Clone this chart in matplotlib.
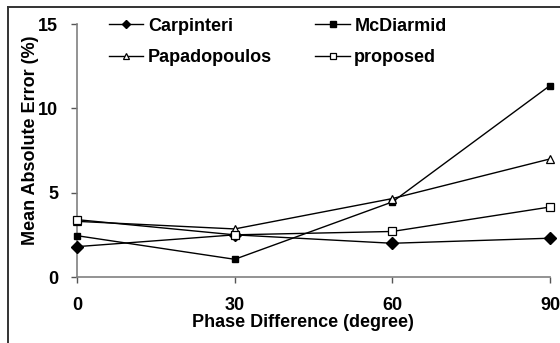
import matplotlib
matplotlib.use("Agg")
import matplotlib.pyplot as plt
from matplotlib.lines import Line2D

plt.rcParams['font.family'] = ['Liberation Sans', 'DejaVu Sans']
plt.rcParams['font.weight'] = 'bold'

# data
phase = [0, 30, 60, 90]
carpinteri = [1.8, 2.5, 2.0, 2.3]
mcdiarmid = [2.45, 1.05, 4.45, 11.35]
papadopoulos = [3.3, 2.85, 4.65, 7.0]
proposed = [3.4, 2.5, 2.7, 4.15]
yticks = [0, 5, 10, 15]

fig = plt.figure(figsize=(5.6, 3.43), dpi=100)
ax = fig.add_axes([0.1375, 0.1924, 0.8446, 0.7376])

# outer frame (only top and left visible in the reference)
fig.add_artist(Line2D([8/560, 8/560], [0, 1 - 7/343], color='#333333', lw=1.4, transform=fig.transFigure))
fig.add_artist(Line2D([8/560, 1], [1 - 7/343, 1 - 7/343], color='#333333', lw=1.4, transform=fig.transFigure))

lw = 1.0
l1, = ax.plot(phase, carpinteri, color='k', lw=lw, marker='D', ms=6, mfc='k', mec='k', label='Carpinteri', clip_on=False, zorder=3)
l2, = ax.plot(phase, mcdiarmid, color='k', lw=lw, marker='s', ms=5, mfc='k', mec='k', label='McDiarmid', clip_on=False, zorder=3)
l3, = ax.plot(phase, papadopoulos, color='k', lw=lw, marker='^', ms=6, mfc='white', mec='k', mew=0.9, label='Papadopoulos', clip_on=False, zorder=3)
l4, = ax.plot(phase, proposed, color='k', lw=lw, marker='s', ms=6, mfc='white', mec='k', mew=0.9, label='proposed', clip_on=False, zorder=4)

ax.set_xlim(0, 90)
ax.set_ylim(0, 15)
ax.set_xticks(phase)
ax.set_yticks(yticks)
ax.tick_params(axis='both', labelsize=13, color='#555555', length=4, width=1)
ax.tick_params(axis='x', pad=10.5)
ax.tick_params(axis='y', pad=9.5)

for s in ['top', 'right']:
    ax.spines[s].set_visible(False)
for s in ['left', 'bottom']:
    ax.spines[s].set_color('#808080')
    ax.spines[s].set_linewidth(1.2)

ax.set_xlabel('Phase Difference (degree)', fontsize=13, fontweight='bold')
ax.set_ylabel('Mean Absolute Error (%)', fontsize=13, fontweight='bold')
ax.xaxis.set_label_coords(0.478, -0.146)
ax.yaxis.set_label_coords(-0.080, 0.54)

# column-major fill, so order gives Carpinteri / McDiarmid on the first row
ax.legend([l1, l3, l2, l4], ['Carpinteri', 'Papadopoulos', 'McDiarmid', 'proposed'],
          ncol=2, loc='upper left', bbox_to_anchor=(0.068, 1.025), frameon=False,
          fontsize=13, handlelength=1.9, columnspacing=2.4, labelspacing=0.8,
          borderpad=0, handletextpad=0.25, borderaxespad=0, markerscale=0.75)

plt.savefig('out.png', dpi=100)
